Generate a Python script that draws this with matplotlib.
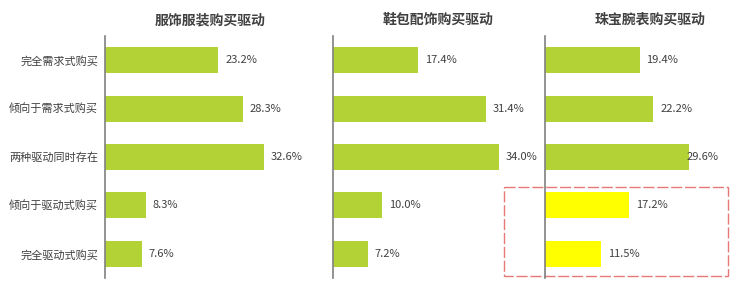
import matplotlib
matplotlib.use("Agg")
import matplotlib.pyplot as plt
from matplotlib.patches import Rectangle

plt.rcParams["font.family"] = ["Noto Sans CJK SC", "DejaVu Sans"]

categories = ["完全需求式购买", "倾向于需求式购买", "两种驱动同时存在", "倾向于驱动式购买", "完全驱动式购买"]
titles = ["服饰服装购买驱动", "鞋包配饰购买驱动", "珠宝腕表购买驱动"]
apparel = [23.2, 28.3, 32.6, 8.3, 7.6]
bags = [17.4, 31.4, 34.0, 10.0, 7.2]
jewelry = [19.4, 22.2, 29.6, 17.2, 11.5]
series = [apparel, bags, jewelry]

green = "#b2d235"
yellow = "#ffff00"
text_col = "#404040"

W, H = 736, 288
fig = plt.figure(figsize=(W / 100, H / 100), dpi=100)

lefts = [105, 333, 545]
ax_w = 185
ax_top, ax_bot = 36, 278
xmax = ax_w / 4.88

for i, (left, vals, title) in enumerate(zip(lefts, series, titles)):
    ax = fig.add_axes([left / W, 1 - ax_bot / H, ax_w / W, (ax_bot - ax_top) / H])
    colors = [green] * len(vals)
    if i == 2:
        colors[3] = yellow
        colors[4] = yellow
    ypos = list(range(len(vals)))
    ax.barh(ypos, vals, height=0.54, color=colors)
    ax.set_xlim(0, xmax)
    ax.set_ylim(len(vals) - 0.5, -0.5)
    for s in ["top", "right", "bottom"]:
        ax.spines[s].set_visible(False)
    ax.spines["left"].set_color("#808080")
    ax.spines["left"].set_linewidth(1.2)
    ax.set_xticks([])
    ax.tick_params(axis="y", length=0, pad=5)
    if i == 0:
        ax.set_yticks(ypos)
        ax.set_yticklabels(categories, fontsize=8, color=text_col)
    else:
        ax.set_yticks([])
    for j, v in enumerate(vals):
        off = 1.4
        if i == 2 and j == 2:
            off = -0.6
        ax.text(v + off, j, f"{v:.1f}%", va="center", ha="left", fontsize=8, color=text_col)
    fig.text((left + 105) / W, 1 - 20 / H, title, ha="center", va="center",
             fontsize=10, fontweight="bold", color=text_col)
    if i == 2:
        rect = Rectangle((-8.4, 2.63), 45.9, 1.82, fill=False, edgecolor="#e87878",
                         linewidth=1, linestyle=(0, (8, 2)), clip_on=False)
        ax.add_patch(rect)

fig.savefig("out.png", dpi=100)
